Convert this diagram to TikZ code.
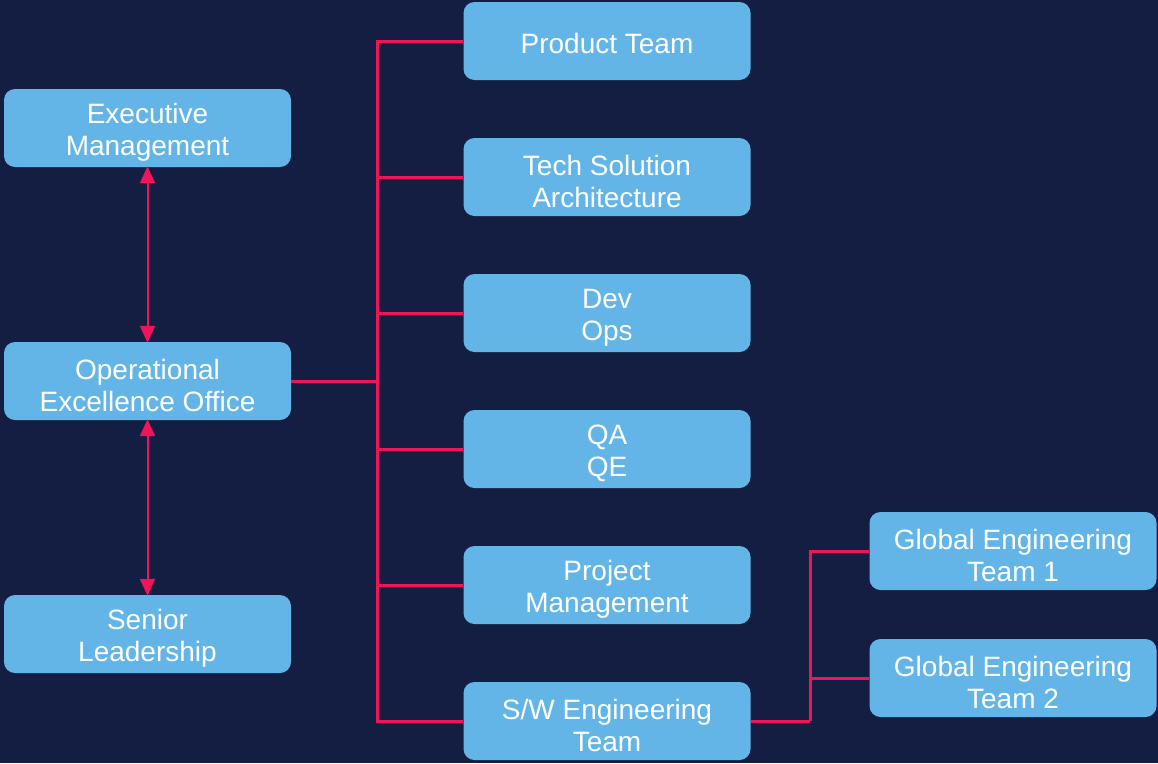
\documentclass[tikz,border=0pt]{standalone}
\usepackage{fontspec}
\setmainfont{Liberation Sans}
\usetikzlibrary{arrows.meta}
\definecolor{bg}{HTML}{141E42}
\definecolor{boxc}{HTML}{63B5E8}
\definecolor{linec}{HTML}{F0145A}
\newcommand{\orgbox}[5][4.5]{%
  \node[box] (#2) at (#3,#4) {};
  \node[txt] at (#3,#4+#1) {#5};}
\begin{document}
\begin{tikzpicture}[x=1pt,y=-1pt,
  box/.style={fill=boxc,rounded corners=11pt,minimum width=287pt,minimum height=78pt,inner sep=0pt},
  txt/.style={inner sep=0pt,text=white,align=center,font=\fontsize{28}{32}\selectfont},
  conn/.style={draw=linec,line width=3pt},
  dbl/.style={draw=linec,line width=2pt,{Triangle[length=17pt,width=15pt]}-{Triangle[length=17pt,width=15pt]}}]
\fill[bg] (0,0) rectangle (1158,763);
\useasboundingbox (0,0) rectangle (1158,763);
\orgbox{exec}{147.5}{128}{Executive\\Management}
\orgbox{oeo}{147.5}{381}{Operational\\Excellence Office}
\orgbox{sen}{147.5}{634}{Senior\\Leadership}
\orgbox[2]{prod}{607}{41}{Product Team}
\orgbox{tech}{607}{177}{Tech Solution\\Architecture}
\orgbox{dev}{607}{313}{Dev\\Ops}
\orgbox{qa}{607}{449}{QA\\QE}
\orgbox{pm}{607}{585}{Project\\Management}
\orgbox{sw}{607}{721}{S/W Engineering\\Team}
\orgbox{g1}{1013}{551}{Global Engineering\\Team 1}
\orgbox{g2}{1013}{678}{Global Engineering\\Team 2}
\coordinate (bus) at (377,381);
\coordinate (bus2) at (810,721);
\draw[dbl] ([yshift=1pt]exec.south) -- ([yshift=-1pt]oeo.north);
\draw[dbl] ([yshift=1pt]oeo.south) -- ([yshift=-1pt]sen.north);
\draw[conn] (oeo.east) -- (bus);
\draw[conn] (prod.west) -| (bus);
\draw[conn] (sw.west) -| (bus);
\foreach \n in {tech,dev,qa,pm} \draw[conn] (\n.west) -- (\n.west -| bus);
\draw[conn] (sw.east) -- (bus2);
\draw[conn] (g1.west) -| (bus2);
\draw[conn] (g2.west) -- (g2.west -| bus2);
\end{tikzpicture}
\end{document}
